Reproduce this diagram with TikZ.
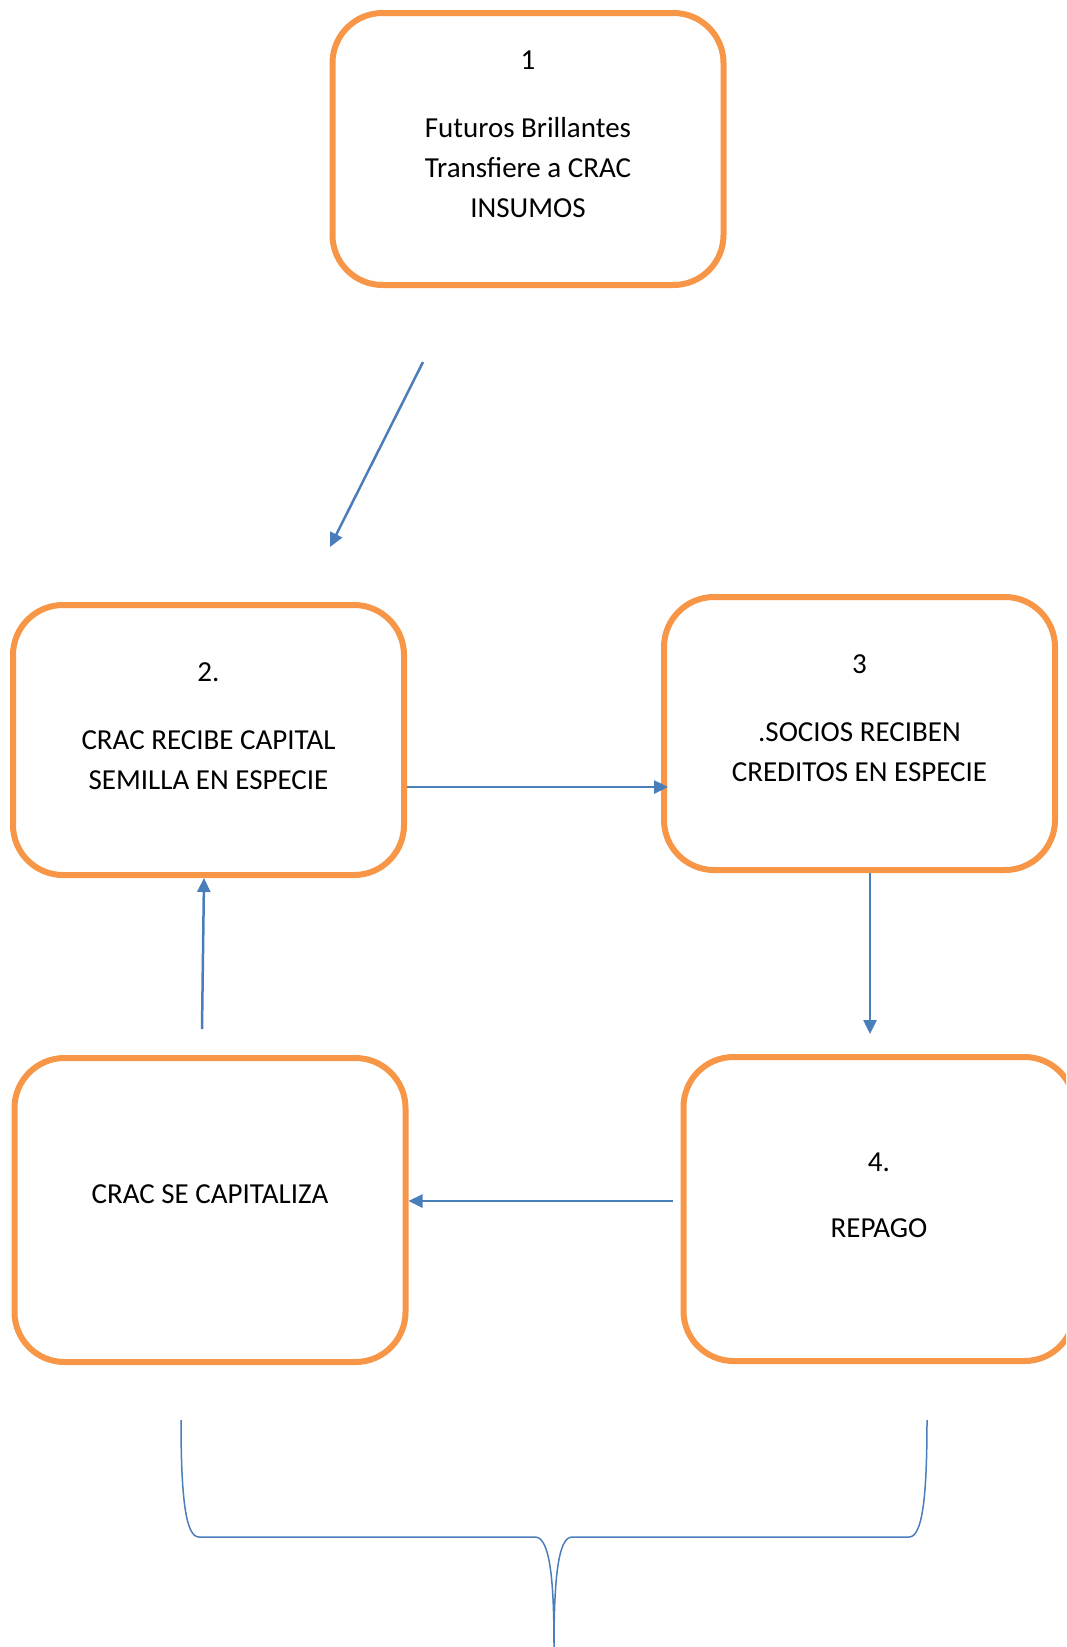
\documentclass[tikz,border=0pt]{standalone}
\usepackage{fontspec}
\setmainfont{Carlito}
\usetikzlibrary{arrows.meta}
\definecolor{boxorange}{HTML}{F79646}
\definecolor{flowblue}{HTML}{4A7EBB}

\begin{document}
\begin{tikzpicture}
[x=1pt, y=-1pt, >={Triangle[length=14pt,width=13pt]},
 every node/.style={inner sep=0pt},
 stage/.style={rectangle, rounded corners=50pt, line width=6pt, draw=boxorange, fill=white, minimum width=391pt},
 txt/.style={anchor=north, align=center, font=\fontsize{29pt}{40pt}\selectfont},
 flow/.style={line width=2.5pt, ->, color=flowblue}]
\useasboundingbox (0,0) rectangle (1066,1647);
\clip (0,0) rectangle (1066,1647);
\node (b1) [stage, minimum height=272pt] at (528, 149) {};
\node (b2) [stage, minimum height=270pt] at (208.5, 740) {};
\node (b3) [stage, minimum height=273pt] at (859.5, 733.5) {};
\node (b4) [stage, minimum height=304pt] at (879, 1209) {};
\node (b5) [stage, minimum height=304pt] at (210, 1210) {};
\node (t1) [txt] at (528, 50.8) {1\\[28pt]Futuros Brillantes\\Transfiere a CRAC\\INSUMOS};
\node (t2) [txt] at (208.5, 662.8) {2.\\[28pt]CRAC RECIBE CAPITAL\\SEMILLA EN ESPECIE};
\node (t3) [txt] at (859.5, 654.8) {3\\[28pt].SOCIOS RECIBEN\\CREDITOS EN ESPECIE};
\node (t4) [txt] at (879, 1152.8) {4.\\[26pt]REPAGO};
\node (t5) [txt] at (210, 1184.8) {CRAC SE CAPITALIZA};
% loose arrow ends
\coordinate (a1s) at (423, 362);
\coordinate (a1e) at (330, 547);
\coordinate (a23) at (668, 787);
\coordinate (a34) at (870, 1034);
\coordinate (a45) at (673, 1201);
\coordinate (a52) at (202, 1029);
\draw [flow] (a1s) to (a1e);
\draw [flow] (b2.east |- a23) to (a23);
\draw [flow] (b3.south -| a34) to (a34);
\draw [flow] (a45) to (b5.east |- a45);
\draw [flow] (a52) to ([xshift=-4.5pt]b2.south);
% brace under the lower boxes
\draw [line width=1.5pt, color=flowblue] (181,1420) .. controls (181,1500) and (186,1537) .. (199,1537) -- (535,1537)
  .. controls (550,1537) and (554,1580) .. (554,1647) .. controls (554,1580) and (558,1537) .. (572,1537) -- (909,1537)
  .. controls (922,1537) and (927,1500) .. (927,1420);
\end{tikzpicture}
\end{document}
